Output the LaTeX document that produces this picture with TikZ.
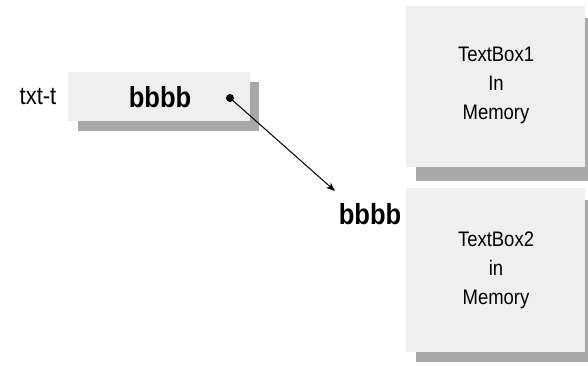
\documentclass[tikz,border=0pt]{standalone}
\usepackage{fontspec}
\setmainfont{Liberation Sans}
\newfontfamily\narrowfont[FakeStretch=0.88]{Liberation Sans}
\usetikzlibrary{arrows.meta}
\definecolor{boxfill}{HTML}{EFEFEF}
\definecolor{shadowc}{HTML}{A8A8A8}
\begin{document}
\begin{tikzpicture}[x=1pt,y=-1pt,
  boxbody/.style={fill=boxfill,draw=none},
  boxshadow/.style={fill=shadowc,draw=none},
  bigtxt/.style={font=\narrowfont\bfseries\fontsize{29}{30}\selectfont,inner sep=0pt},
  labtxt/.style={font=\narrowfont\fontsize{25}{27}\selectfont,inner sep=0pt},
  memtxt/.style={font=\narrowfont\fontsize{21}{29}\selectfont,align=center,inner sep=0pt}]
\useasboundingbox (0,0) rectangle (588,365);
% small text box
\fill[boxshadow] (78,82) rectangle (259,131);
\fill[boxbody] (68,72) rectangle (250,121);
\node[labtxt] (lab) at (38,97) {txt{-}t};
\node[bigtxt] (b1) at (160,97) {bbbb};
% memory boxes
\fill[boxshadow] (416,18) rectangle (588,181);
\fill[boxbody] (406,6) rectangle (585,167);
\node[memtxt] (m1) at (496,85) {TextBox1\\In\\Memory};
\fill[boxshadow] (416,200) rectangle (588,362);
\fill[boxbody] (406,188) rectangle (585,352);
\node[memtxt] (m2) at (496,270) {TextBox2\\in\\Memory};
\node[bigtxt] (b2) at (370,214) {bbbb};
% pointer
\coordinate (dot) at (230,98);
\coordinate (tip) at (335,191);
\fill (dot) circle (4);
\draw[line width=1pt,-{Stealth[length=9pt,width=7pt]}] (dot) -- (tip);
\end{tikzpicture}
\end{document}
